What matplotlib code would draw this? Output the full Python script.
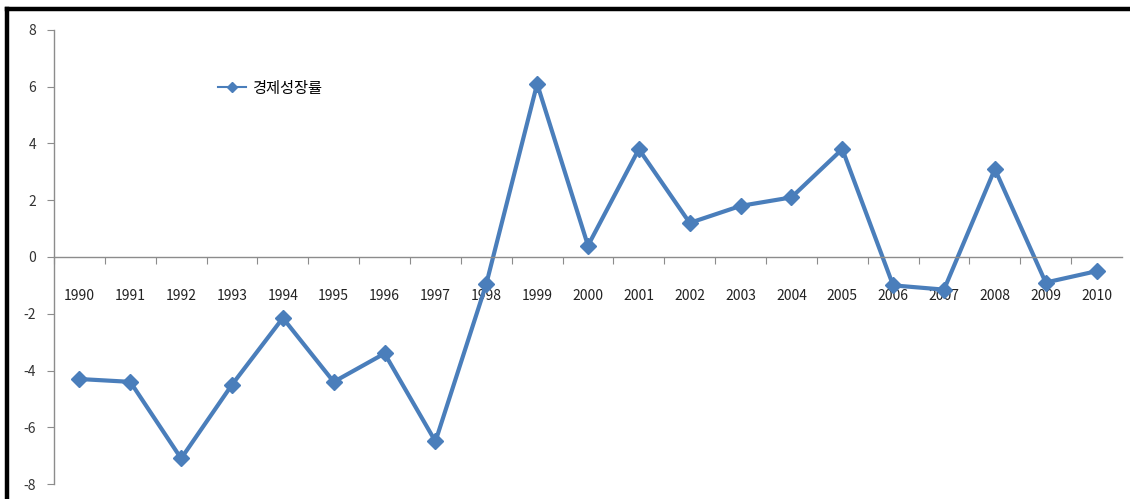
#!/usr/bin/env python3
"""
Annual economic growth rate, 1990-2010 (line chart)
"""

import matplotlib
matplotlib.use('Agg')
import matplotlib.pyplot as plt
from matplotlib.lines import Line2D

plt.rcParams['font.family'] = ['Liberation Sans Narrow', 'Noto Sans CJK KR', 'DejaVu Sans']

# Data
years = ['1990', '1991', '1992', '1993', '1994', '1995', '1996', '1997', '1998', '1999',
         '2000', '2001', '2002', '2003', '2004', '2005', '2006', '2007', '2008', '2009', '2010']
growth = [-4.3, -4.4, -7.1, -4.5, -2.15, -4.4, -3.4, -6.5, -0.95, 6.1,
          0.4, 3.8, 1.2, 1.8, 2.1, 3.8, -1.0, -1.15, 3.1, -0.9, -0.5]
series_name = '경제성장률'
y_ticks = [-8, -6, -4, -2, 0, 2, 4, 6, 8]

line_color = '#4A7EBB'
axis_color = '#8C8C8C'

fig = plt.figure(figsize=(11.3, 4.99), dpi=100)
ax = fig.add_axes([0.0478, 0.030, 0.9451, 0.910])

x = list(range(len(years)))
ax.plot(x, growth, color=line_color, linewidth=3.0, marker='D', markersize=8.5,
        markerfacecolor=line_color, markeredgecolor=line_color, label=series_name)

ax.set_xlim(-0.5, len(years) - 0.5)
ax.set_ylim(-8, 8)
ax.set_yticks(y_ticks)
ax.set_yticklabels([str(v) for v in y_ticks])

# Category axis crosses at zero; tick marks sit between categories
for side in ('top', 'right'):
    ax.spines[side].set_visible(False)
ax.spines['bottom'].set_position(('data', 0))
ax.spines['bottom'].set_color(axis_color)
ax.spines['left'].set_color(axis_color)
ax.spines['bottom'].set_linewidth(1.0)
ax.spines['left'].set_linewidth(1.0)

ax.set_xticks([i + 0.5 for i in range(len(years) - 1)] + [-0.5])
ax.set_xticklabels([])
ax.tick_params(axis='x', which='major', direction='out', length=5, color=axis_color)
ax.set_xticks(x, minor=True)
ax.set_xticklabels(years, minor=True)
ax.tick_params(axis='x', which='minor', length=0, pad=23, labelsize=10, labelcolor='#222222')
ax.tick_params(axis='y', direction='out', length=5, color=axis_color, pad=8,
               labelsize=10, labelcolor='#333333')

handle = Line2D([], [], color=line_color, linewidth=1.5, marker='D', markersize=5)
ax.legend([handle], [series_name], loc='center left', bbox_to_anchor=(0.148, 0.872),
          frameon=False, handlelength=1.8, handletextpad=0.4, borderaxespad=0.0,
          prop={'family': ['Noto Sans CJK KR', 'DejaVu Sans'], 'size': 11})

# Heavy frame lines along the top and left edges
fig.add_artist(Line2D([0.0062, 1.0], [0.982, 0.982], transform=fig.transFigure,
                      color='black', linewidth=3.2))
fig.add_artist(Line2D([0.0062, 0.0062], [0.0, 0.982], transform=fig.transFigure,
                      color='black', linewidth=3.2))

plt.savefig('out.png', dpi=100)
plt.close()
